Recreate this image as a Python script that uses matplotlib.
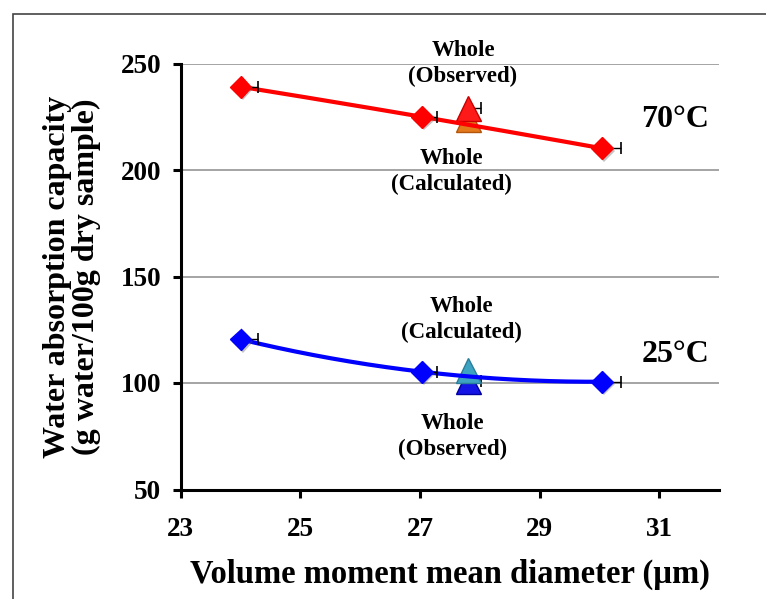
import numpy as np
import matplotlib
matplotlib.use("Agg")
import matplotlib.pyplot as plt
from matplotlib.patches import Rectangle
import matplotlib.patheffects as pe

plt.rcParams['font.family'] = ['Liberation Serif', 'DejaVu Serif']
plt.rcParams['font.weight'] = 'bold'

# Ground fractions: diameter (µm) vs water absorption capacity
diam = [24.0, 27.03, 30.04]
diam_err = [0.30, 0.26, 0.32]
wac_70 = [239.1, 225.0, 210.2]
wac_25 = [120.5, 105.3, 100.6]

# Whole sample
whole_diam = 27.8
whole_err = 0.22
whole_70_obs = 229.0
whole_70_calc = 224.0
whole_25_calc = 106.0
whole_25_obs = 101.0

W, H = 766, 599
ax_left, ax_right, ax_top, ax_bottom = 180.7, 719.0, 63.5, 489.5
fig = plt.figure(figsize=(W / 100, H / 100), dpi=100)
ax = fig.add_axes([ax_left / W, 1 - ax_bottom / H, (ax_right - ax_left) / W, (ax_bottom - ax_top) / H])

ax.set_xlim(23, 32)
ax.set_ylim(50, 250)
ax.set_xticks([23, 25, 27, 29, 31])
ax.set_yticks([50, 100, 150, 200, 250])
ax.yaxis.grid(True, color='#8c8c8c', lw=1.1)
ax.set_axisbelow(True)
for s in ['top', 'right']:
    ax.spines[s].set_visible(False)
for s in ['left', 'bottom']:
    ax.spines[s].set_linewidth(2.2)
ax.tick_params(axis='both', direction='out', length=6, width=2.2, labelsize=19.5)
ax.tick_params(axis='x', pad=14)
ax.tick_params(axis='y', pad=8)
for lab in ax.get_xticklabels() + ax.get_yticklabels():
    lab.set_fontweight('bold')

shadow = [pe.SimplePatchShadow(offset=(1.5, -2), shadow_rgbFace='#555555', alpha=0.35), pe.Normal()]

# Whole-sample triangles (under the fitted lines)
ax.plot([whole_diam], [whole_70_calc], '^', ms=18, mfc='#E3791B', mec='#B4550C', mew=1, zorder=3)
ax.plot([whole_diam], [whole_70_obs], '^', ms=18, mfc='#FF1A1A', mec='#C80000', mew=1, zorder=3.1)
ax.plot([whole_diam], [whole_25_obs], '^', ms=18, mfc='#1414E6', mec='#0000A0', mew=1, zorder=3)
ax.plot([whole_diam], [whole_25_calc], '^', ms=18, mfc='#3EA3C2', mec='#2A7E99', mew=1, zorder=3.1)
for yv in [whole_70_obs, whole_25_obs]:
    ax.errorbar([whole_diam], [yv], xerr=[[0], [whole_err]], fmt='none',
                ecolor='black', elinewidth=1, capsize=4, capthick=1.2, zorder=2.9)

# Smooth curves through the fraction means
xs = np.linspace(diam[0], diam[-1], 200)
for vals, col in [(wac_70, '#FF0000'), (wac_25, '#0000FF')]:
    c = np.polyfit(diam, vals, 2)
    ax.plot(xs, np.polyval(c, xs), color=col, lw=3, zorder=4, solid_capstyle='round')
    ax.errorbar(diam, vals, xerr=[[0] * 3, diam_err], fmt='none', ecolor='black',
                elinewidth=1, capsize=4, capthick=1.2, zorder=4.5)
    ax.plot(diam, vals, 'D', ms=11, mfc=col, mec=col, zorder=5, path_effects=shadow)

tkw = dict(ha='center', va='center', fontsize=16.5, fontweight='bold', linespacing=1.3)
ax.text(27.72, 250.2, 'Whole\n(Observed)', **tkw)
ax.text(27.52, 199.3, 'Whole\n(Calculated)', **tkw)
ax.text(27.70, 129.6, 'Whole\n(Calculated)', **tkw)
ax.text(27.55, 75.1, 'Whole\n(Observed)', **tkw)
ax.text(31.27, 223.5, '70°C', ha='center', va='center', fontsize=23, fontweight='bold')
ax.text(31.27, 113.2, '25°C', ha='center', va='center', fontsize=23, fontweight='bold')

ax.set_xlabel('Volume moment mean diameter (µm)', fontsize=23.5, fontweight='bold', labelpad=12)
ax.set_ylabel('Water absorption capacity\n(g water/100g dry sample)', fontsize=23,
              fontweight='bold', linespacing=0.98)
ax.yaxis.label.set_va('center')
ax.yaxis.set_label_coords((72 - ax_left) / (ax_right - ax_left), 0.5)

# Chart-area border
fig.add_artist(Rectangle((13 / W, -0.2), 1.2, 1.2 - 14.5 / H, transform=fig.transFigure,
                         fill=False, edgecolor='#444444', lw=1.2))

fig.savefig('out.png', dpi=100)
